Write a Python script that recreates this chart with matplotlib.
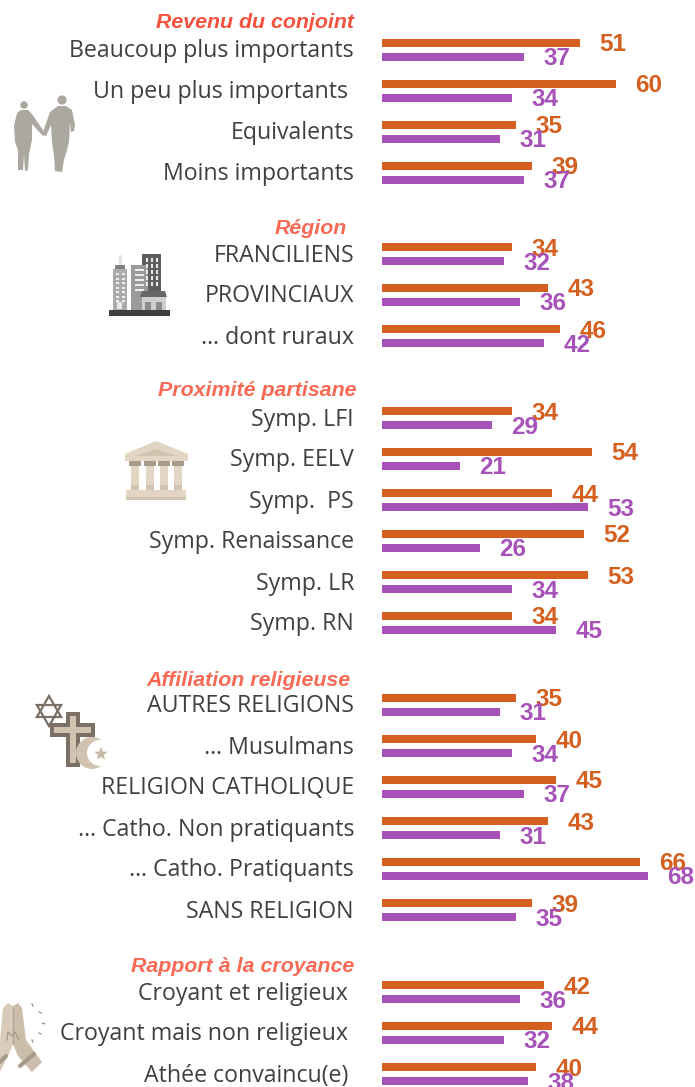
import math
import matplotlib
matplotlib.use('Agg')
import matplotlib.pyplot as plt
from matplotlib.patches import Circle, Polygon, Rectangle, RegularPolygon
# ------------------------------ #

groupTitles = ['Revenu du conjoint', 'Région', 'Proximité partisane', 'Affiliation religieuse', 'Rapport à la croyance']

revenuLabels = ['Beaucoup plus importants', 'Un peu plus importants ', 'Equivalents', 'Moins importants']
revenuOrange = [51, 60, 35, 39]
revenuPurple = [37, 34, 31, 37]

regionLabels = ['FRANCILIENS', 'PROVINCIAUX', '… dont ruraux']
regionOrange = [34, 43, 46]
regionPurple = [32, 36, 42]

partiLabels = ['Symp. LFI', 'Symp. EELV', 'Symp.  PS', 'Symp. Renaissance', 'Symp. LR', 'Symp. RN']
partiOrange = [34, 54, 44, 52, 53, 34]
partiPurple = [29, 21, 53, 26, 34, 45]

religionLabels = ['AUTRES RELIGIONS', '… Musulmans', 'RELIGION CATHOLIQUE', '… Catho. Non pratiquants', '… Catho. Pratiquants', 'SANS RELIGION']
religionOrange = [35, 40, 45, 43, 66, 39]
religionPurple = [31, 34, 37, 31, 68, 35]

croyanceLabels = ['Croyant et religieux ', 'Croyant mais non religieux ', 'Athée convaincu(e) ']
croyanceOrange = [42, 44, 40]
croyancePurple = [36, 32, 38]

ORANGE = '#D45F1E'
PURPLE = '#A652B8'
TEXT_GREY = '#404040'
BAR_LEFT = 382
PX_PER_UNIT = 4.0
AXIS_START = 1.5
W, H = 695, 1087
# ------------------------------ #

def drawGroup(axBars, axPx, title, titleX, titleY, labels, orange, purple, firstY):
	color = '#F4533F' if title == groupTitles[0] else '#F96A55'
	axPx.text(titleX, titleY + 1, title, ha='right', va='center', color=color, fontsize=15.4,
		family='Liberation Sans', weight='bold', style='italic')
	for i, (label, o, p) in enumerate(zip(labels, orange, purple)):
		y = firstY + i * 41
		axBars.barh(y, o, height=8, color=ORANGE)
		axBars.barh(y + 14, p, height=8, color=PURPLE)
		axPx.text(354, y + 8.5, label, ha='right', va='center', color=TEXT_GREY, fontsize=16.7, family='Open Sans')
		axBars.annotate(str(o), (o, y), xytext=(33, -2), textcoords='offset pixels', ha='center', va='center',
			color=ORANGE, fontsize=17.5, weight='bold', family='Liberation Sans')
		axBars.annotate(str(p), (p, y + 14), xytext=(33, -2), textcoords='offset pixels', ha='center', va='center',
			color=PURPLE, fontsize=17.5, weight='bold', family='Liberation Sans')
# ------------------------------ #

def drawCouple(ax):
	c = '#ABA89F'
	ax.add_patch(Circle((24, 105), 3.8, color=c, lw=0))
	ax.add_patch(Polygon([(17, 113), (21, 110), (28, 110), (32, 114), (45, 133), (43, 136), (32, 124), (32, 140),
		(29, 154), (28, 170), (25, 171), (24, 155), (23, 170), (18, 170), (18, 150), (15, 142), (14, 126)], color=c, lw=0))
	ax.add_patch(Circle((62, 100), 4.6, color=c, lw=0))
	ax.add_patch(Polygon([(50, 112), (58, 106), (66, 106), (72, 110), (75, 125), (74, 131), (71, 132), (70, 122),
		(69, 142), (67, 150), (64, 160), (62, 172), (55, 171), (54, 155), (52, 143), (51, 125), (46, 136), (42, 135)], color=c, lw=0))
# ------------------------------ #

def drawCity(ax):
	ax.add_patch(Rectangle((119, 255), 3, 12, color='#E4E4E4', lw=0))
	ax.add_patch(Rectangle((115, 265), 10, 5, color='#808080', lw=0))
	ax.add_patch(Rectangle((113, 269), 14, 42, color='#ABABAB', lw=0))
	ax.add_patch(Rectangle((142, 254), 19, 40, color='#5E5E5E', lw=0))
	ax.add_patch(Rectangle((131, 265), 17, 46, color='#9A9A9A', lw=0))
	for row in range(5):
		ax.add_patch(Rectangle((135, 269 + row * 5), 9, 2, color='#EDEDED', lw=0))
		for col in range(3):
			ax.add_patch(Rectangle((146 + col * 5, 258 + row * 6), 2, 4, color='#E8E8E8', lw=0))
	for row in range(7):
		for col in range(2):
			ax.add_patch(Rectangle((116 + col * 6, 273 + row * 4.5), 2.5, 2, color='#EEEEEE', lw=0))
	ax.add_patch(Rectangle((117, 302), 5, 7, color='#E8E8E8', lw=0))
	ax.add_patch(Rectangle((142, 297), 24, 14, color='#CECECE', lw=0))
	ax.add_patch(Rectangle((145, 302), 6, 8, color='#8A8A8A', lw=0))
	ax.add_patch(Rectangle((156, 302), 6, 8, color='#8A8A8A', lw=0))
	ax.add_patch(Polygon([(142, 291), (165, 291), (167, 297), (140, 297)], color='#666666', lw=0))
	ax.add_patch(Rectangle((109, 310), 61, 6, color='#3F3F3F', lw=0))
# ------------------------------ #

def drawTemple(ax):
	ax.add_patch(Polygon([(125, 454), (156, 441), (188, 454), (188, 461), (125, 461)], color='#E2D5C3', lw=0))
	ax.add_patch(Polygon([(135, 456), (156, 449), (177, 456)], color='#D2C4B1', lw=0))
	for x in [129, 144, 158, 172]:
		ax.add_patch(Rectangle((x, 461), 12, 5, color='#A89A88', lw=0))
		ax.add_patch(Rectangle((x + 2, 466), 8, 24, color='#E2D5C3', lw=0))
		ax.add_patch(Rectangle((x + 2, 485), 8, 5, color='#D2C4B1', lw=0))
	ax.add_patch(Rectangle((126, 490), 60, 10, color='#E2D5C3', lw=0))
	ax.add_patch(Rectangle((126, 497), 60, 3, color='#D2C4B1', lw=0))
# ------------------------------ #

def drawReligion(ax):
	dark = '#7A7065'
	ax.add_patch(RegularPolygon((49, 712), 3, radius=14, orientation=0, fill=False, ec=dark, lw=1.6))
	ax.add_patch(RegularPolygon((49, 710), 3, radius=14, orientation=math.pi, fill=False, ec=dark, lw=1.6))
	ax.add_patch(Rectangle((66, 712), 14, 55, color=dark, lw=0))
	ax.add_patch(Rectangle((50, 723), 45, 14, color=dark, lw=0))
	ax.add_patch(Rectangle((70, 716), 6, 47, color='#D2C3B0', lw=0))
	ax.add_patch(Rectangle((54, 727), 37, 6, color='#D2C3B0', lw=0))
	ax.add_patch(Circle((92, 753), 16, color='#D2C3B0', lw=0))
	ax.add_patch(Circle((100, 753), 13, color='white', lw=0))
	starPts = []
	for k in range(10):
		r = 7 if k % 2 == 0 else 3
		a = -math.pi / 2 + k * math.pi / 5
		starPts.append((101 + r * math.cos(a), 754 + r * math.sin(a)))
	ax.add_patch(Polygon(starPts, color='#C9B8A4', lw=0))
# ------------------------------ #

def drawHands(ax):
	c = '#CDBEAB'
	ax.add_patch(Polygon([(13, 1006), (18, 1003), (22, 1008), (26, 1040), (42, 1062), (32, 1072), (18, 1056), (13, 1044)], color=c, lw=0))
	ax.add_patch(Polygon([(13, 1006), (8, 1003), (3, 1008), (0, 1040), (0, 1072), (8, 1056), (13, 1044)], color='#D8CBB9', lw=0))
	ax.plot([13, 13], [1008, 1044], color='#B3A490', lw=1)
	ax.plot([7, 8, 12, 15, 19], [1040, 1032, 1036, 1032, 1040], color='#A89A88', lw=1)
	ax.plot([20, 34], [1066, 1054], color='#A89A88', lw=3, solid_capstyle='round')
	ax.plot([0, 6], [1062, 1056], color='#A89A88', lw=3, solid_capstyle='round')
	for xs, ys in [([32, 33], [1004, 1006]), ([39, 41], [1012, 1013]), ([42, 44], [1023, 1023]), ([39, 41], [1033, 1034]), ([32, 33], [1040, 1042])]:
		ax.plot(xs, ys, color='#A89A88', lw=1)
# ------------------------------ #

if __name__ == '__main__':
	fig = plt.figure(figsize=(W / 100, H / 100), dpi=100, facecolor='white')

	# value axis does not start at zero in the original, bars are cut at its left edge
	axBars = fig.add_axes([BAR_LEFT / W, 0, (W - BAR_LEFT) / W, 1])
	axBars.set_xlim(AXIS_START, AXIS_START + (W - BAR_LEFT) / PX_PER_UNIT)
	axBars.set_ylim(H, 0)
	axBars.axis('off')

	axPx = fig.add_axes([0, 0, 1, 1])
	axPx.set_xlim(0, W)
	axPx.set_ylim(H, 0)
	axPx.axis('off')
	axPx.patch.set_alpha(0)

	drawGroup(axBars, axPx, groupTitles[0], 354, 22, revenuLabels, revenuOrange, revenuPurple, 42.5)
	drawGroup(axBars, axPx, groupTitles[1], 347, 228, regionLabels, regionOrange, regionPurple, 247)
	drawGroup(axBars, axPx, groupTitles[2], 357, 390, partiLabels, partiOrange, partiPurple, 411)
	drawGroup(axBars, axPx, groupTitles[3], 351, 679, religionLabels, religionOrange, religionPurple, 698)
	drawGroup(axBars, axPx, groupTitles[4], 354, 966, croyanceLabels, croyanceOrange, croyancePurple, 985)

	drawCouple(axPx)
	drawCity(axPx)
	drawTemple(axPx)
	drawReligion(axPx)
	drawHands(axPx)

	fig.savefig('out.png', dpi=100, facecolor='white')
